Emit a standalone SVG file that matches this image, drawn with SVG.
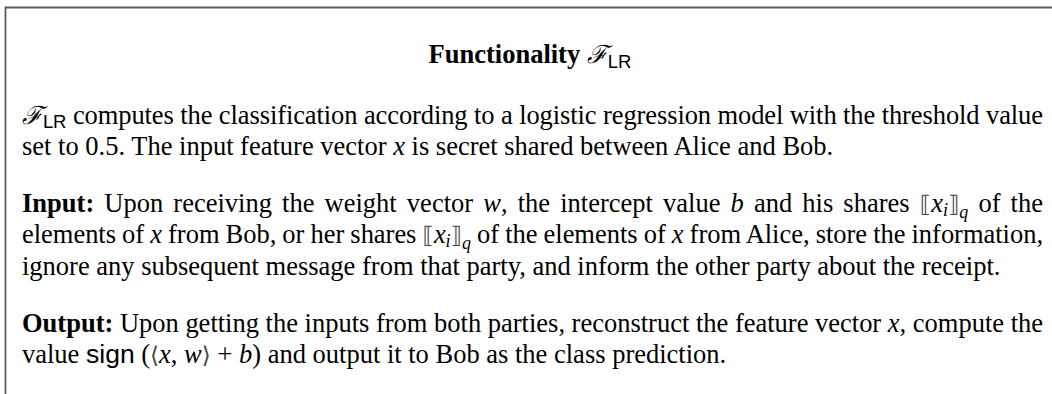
<svg xmlns="http://www.w3.org/2000/svg" width="1052" height="394" viewBox="0 0 1052 394">
<style>
text{font-family:"Liberation Serif","Times New Roman",serif;font-size:26.5px;fill:#000}
.b{font-weight:bold}
.m{font-style:italic}
.cal{font-family:"DejaVu Serif",serif;font-style:italic;font-size:25px;font-weight:normal}
.sf{font-family:"Liberation Sans",Arial,sans-serif}
.sub{font-family:"Liberation Sans",Arial,sans-serif;font-size:18.5px;font-weight:normal}
.br{font-family:"DejaVu Sans",sans-serif;font-size:23px;fill:#444}
.si{font-style:italic;font-size:18px}
</style>
<rect width="1052" height="394" fill="#fff"/>
<g id="frame"><path d="M5.5,394 V7.5 H1052" fill="none" stroke="#5c5c5c" stroke-width="1.8"/></g>
<g id="title">
<text x="530" y="63" text-anchor="middle"><tspan class="b">Functionality </tspan><tspan class="cal">ℱ</tspan><tspan class="sub" dy="4.5">LR</tspan></text>
</g>
<g id="intro">
<text x="22" y="123.5" textLength="1021" lengthAdjust="spacing"><tspan class="cal">ℱ</tspan><tspan class="sub" dy="4.5">LR</tspan><tspan dy="-4.5"> computes the classification according to a logistic regression model with the threshold value</tspan></text>
<text x="22" y="155.3">set to 0.5. The input feature vector <tspan class="m">x</tspan> is secret shared between Alice and Bob.</text>
</g>
<g id="input">
<text x="22" y="211.5" textLength="1021" lengthAdjust="spacing" word-spacing="3.5"><tspan class="b">Input:</tspan> Upon receiving the weight vector <tspan class="m">w</tspan>, the intercept value <tspan class="m">b</tspan> and his shares <tspan class="br">⟦</tspan><tspan class="m">x</tspan><tspan class="si" dy="4">i</tspan><tspan class="br" dy="-4">⟧</tspan><tspan class="si" dy="6">q</tspan><tspan dy="-6"> of the</tspan></text>
<text x="22" y="243.3" textLength="1021" lengthAdjust="spacing" word-spacing="-0.5">elements of <tspan class="m">x</tspan> from Bob, or her shares <tspan class="br">⟦</tspan><tspan class="m">x</tspan><tspan class="si" dy="4">i</tspan><tspan class="br" dy="-4">⟧</tspan><tspan class="si" dy="6">q</tspan><tspan dy="-6"> of the elements of </tspan><tspan class="m">x</tspan> from Alice, store the information,</text>
<text x="22" y="275.1">ignore any subsequent message from that party, and inform the other party about the receipt.</text>
</g>
<g id="output">
<text x="22" y="331.5" textLength="1021" lengthAdjust="spacing"><tspan class="b">Output:</tspan> Upon getting the inputs from both parties, reconstruct the feature vector <tspan class="m">x</tspan>, compute the</text>
<text x="22" y="363.3">value <tspan class="sf">sign</tspan> (<tspan class="br">⟨</tspan><tspan class="m">x</tspan>, <tspan class="m">w</tspan><tspan class="br">⟩</tspan> + <tspan class="m">b</tspan>) and output it to Bob as the class prediction.</text>
</g>
</svg>
